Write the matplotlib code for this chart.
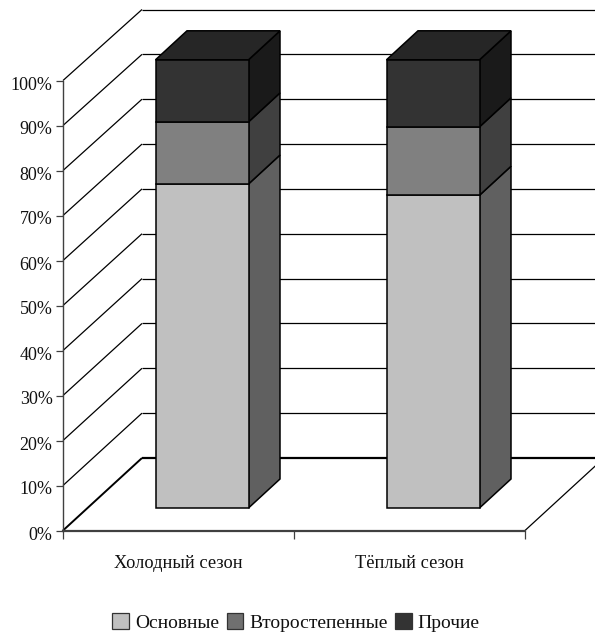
import matplotlib
matplotlib.use('Agg')
import matplotlib.pyplot as plt
from matplotlib.patches import Patch, Polygon
from matplotlib.transforms import ScaledTranslation
import numpy as np

plt.rcParams['font.family'] = ['Liberation Serif', 'DejaVu Serif']

seasons = ['Холодный сезон', 'Тёплый сезон']
series_names = ['Основные', 'Второстепенные', 'Прочие']
osnovnye = [72.0, 69.5]
vtorostep = [13.8, 15.2]
prochie = [13.8, 14.9]
yticks = [0, 10, 20, 30, 40, 50, 60, 70, 80, 90, 100]

front_colors = ['#C0C0C0', '#808080', '#333333']
side_colors = ['#606060', '#404040', '#1A1A1A']
cap_color = '#262626'
axis_color = '#404040'

W, H = 595, 633
fig = plt.figure(figsize=(W / 100, H / 100), dpi=100, facecolor='white')
ax = fig.add_axes([63 / W, (H - 530.5) / H, 462 / W, 450 / H])
ax.set_xlim(0, 2)
ax.set_ylim(0, 100)

# fake 3d: depth is a shift in data units (pixels / scale)
px_x = 2 / 462
px_y = 100 / 450
wall_dx = 79 * px_x
floor_dy = 72.5 * px_y   # back edge of the floor
back_scale = 448.5 / 450  # back wall comes out slightly shorter than the front axis
bar_w = 93 * px_x
bar_shift_x, bar_shift_y = 23.5 * px_x, 22.5 * px_y
depth_x, depth_y = 31.5 * px_x, 29 * px_y


def line(xs, ys, **kw):
    kw.setdefault('color', 'black')
    kw.setdefault('lw', 0.9)
    ax.plot(xs, ys, clip_on=False, solid_capstyle='butt', zorder=1, **kw)


# walls
for t in yticks[1:]:
    back_y = floor_dy + t * back_scale
    line([0, wall_dx], [t, back_y])
    line([wall_dx, 2 + wall_dx], [back_y, back_y])
# floor
line([0, wall_dx], [0, floor_dy], lw=1.4)
line([wall_dx, 2 + wall_dx], [floor_dy, floor_dy], lw=1.6)
line([2, 2 + wall_dx], [0, floor_dy], lw=0.9)

# bars
x = np.arange(len(seasons)) + 0.5 + bar_shift_x
bottom = np.zeros(len(seasons)) + bar_shift_y
for vals, fc, sc in zip([osnovnye, vtorostep, prochie], front_colors, side_colors):
    vals = np.array(vals)
    ax.bar(x, vals, bar_w, bottom=bottom, color=fc, edgecolor='black', linewidth=1.1,
           clip_on=False, zorder=4)
    for xi, b, v in zip(x, bottom, vals):
        xr = xi + bar_w / 2
        side = [(xr, b), (xr + depth_x, b + depth_y), (xr + depth_x, b + v + depth_y), (xr, b + v)]
        ax.add_patch(Polygon(side, closed=True, facecolor=sc, edgecolor='black', linewidth=1.1,
                             clip_on=False, zorder=3))
    bottom = bottom + vals
for xi, b in zip(x, bottom):
    xl, xr = xi - bar_w / 2, xi + bar_w / 2
    cap = [(xl, b), (xl + depth_x, b + depth_y), (xr + depth_x, b + depth_y), (xr, b)]
    ax.add_patch(Polygon(cap, closed=True, facecolor=cap_color, edgecolor='black', linewidth=1.1,
                         clip_on=False, zorder=3))

# axes
ax.patch.set_visible(False)
for s in ['top', 'right']:
    ax.spines[s].set_visible(False)
ax.spines['left'].set_color(axis_color)
ax.spines['left'].set_linewidth(1.0)
ax.spines['bottom'].set_color(axis_color)
ax.spines['bottom'].set_linewidth(1.6)
ax.set_yticks(yticks)
ax.set_yticklabels(['%d%%' % t for t in yticks], fontsize=13, color='#111111')
ax.tick_params(axis='y', length=5, width=0.9, color=axis_color, pad=2.5)
down = ScaledTranslation(0, -2.5 / 100, fig.dpi_scale_trans)
for lab in ax.get_yticklabels():
    lab.set_transform(lab.get_transform() + down)
ax.set_xticks([0, 1, 2])
ax.set_xticklabels([])
ax.tick_params(axis='x', which='major', length=6, width=0.9, color=axis_color)
ax.set_xticks([0.5, 1.5], minor=True)
ax.set_xticklabels(seasons, minor=True, fontsize=13.2, color='#111111')
ax.tick_params(axis='x', which='minor', length=0, pad=17.5)

handles = [Patch(facecolor=c, edgecolor='#333333', linewidth=0.9) for c in ['#C0C0C0', '#707070', '#333333']]
fig.legend(handles, series_names, loc='center', bbox_to_anchor=(296 / W, (H - 622.5) / H), ncol=3,
           frameon=False, fontsize=14, handlelength=0.85, handleheight=0.85,
           handletextpad=0.3, columnspacing=0.4, labelcolor='#111111',
           borderpad=0, borderaxespad=0)

fig.savefig('out.png', dpi=100)
